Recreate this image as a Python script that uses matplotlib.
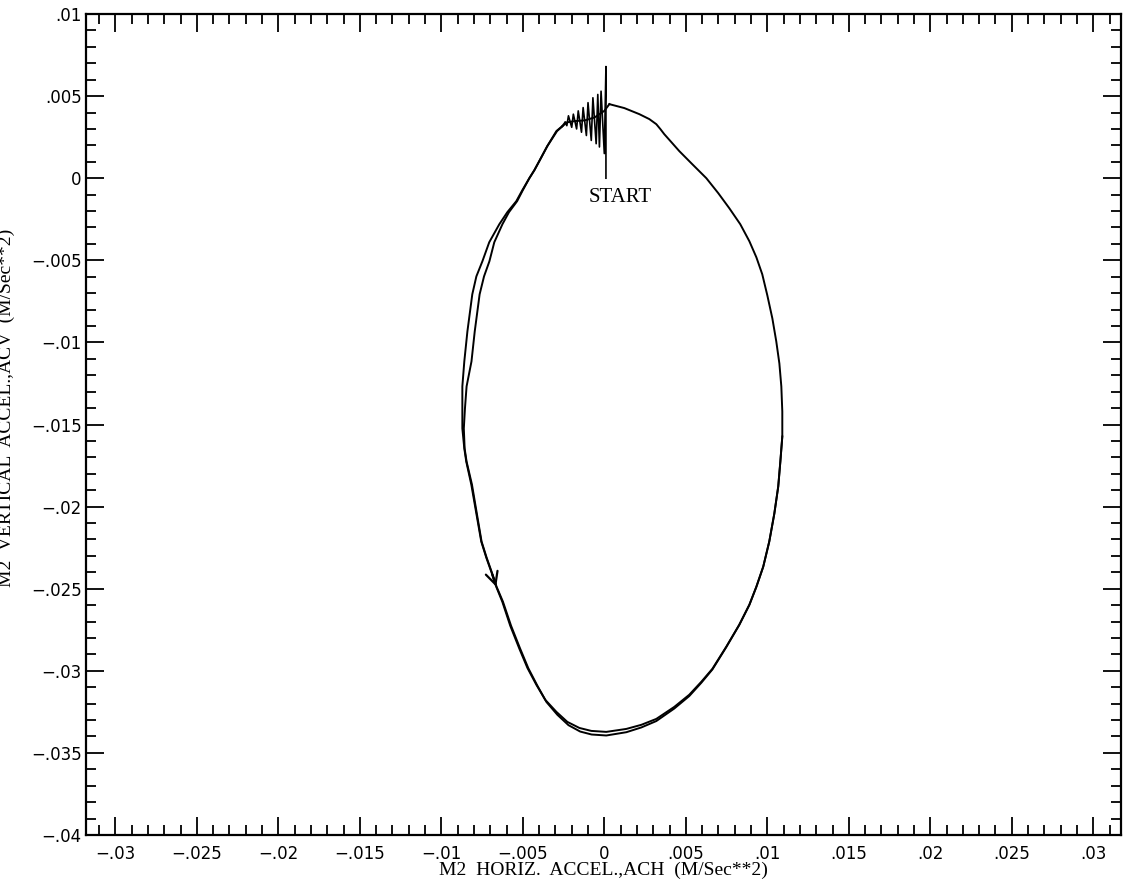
import matplotlib
matplotlib.use("Agg")
import matplotlib.pyplot as plt
from matplotlib.ticker import FixedLocator, MultipleLocator

# ---- data ----
# start transient: spike then decaying oscillation moving left
start_x = [0.0001, 0.0001, 0.0000, -0.0002, -0.0003, -0.0004, -0.0005, -0.0007, -0.0008,
           -0.0010, -0.0011, -0.0013, -0.0014, -0.0016, -0.0017, -0.0019, -0.0020,
           -0.0022, -0.0023, -0.0024]
start_y = [0.0000, 0.0068, 0.0015, 0.0053, 0.0019, 0.0051, 0.0021, 0.0049, 0.0023,
           0.0046, 0.0026, 0.0043, 0.0028, 0.0041, 0.0030, 0.0039, 0.0031,
           0.0038, 0.0032, 0.0034]

# first loop (outer line on the left), listed clockwise from the top
loop1_x = [0.00031, 0.00123, 0.00215, 0.00276, 0.00319, 0.00344, 0.00368, 0.00411,
           0.00460, 0.00540, 0.00626, 0.00699, 0.00767, 0.00834, 0.00890, 0.00933,
           0.00969, 0.01000, 0.01031, 0.01055, 0.01074, 0.01086, 0.01092, 0.01092,
           0.01080, 0.01067, 0.01043, 0.01012, 0.00975, 0.00933, 0.00890, 0.00828,
           0.00748, 0.00663, 0.00595, 0.00521, 0.00429, 0.00319, 0.00227, 0.00135,
           0.00012, -0.00080, -0.00153, -0.00227, -0.00294, -0.00362, -0.00417,
           -0.00472, -0.00521, -0.00577, -0.00626, -0.00663, -0.00687, -0.00724,
           -0.00755, -0.00785, -0.00816, -0.00847, -0.00859, -0.00871, -0.00871,
           -0.00871, -0.00859, -0.00840, -0.00810, -0.00785, -0.00748, -0.00706,
           -0.00644, -0.00595, -0.00540, -0.00503, -0.00460, -0.00429, -0.00399,
           -0.00350, -0.00294, -0.00258]
loop1_y = [0.00451, 0.00427, 0.00390, 0.00360, 0.00329, 0.00299, 0.00268, 0.00220,
           0.00165, 0.00085, 0.00000, -0.00091, -0.00183, -0.00280, -0.00384, -0.00482,
           -0.00585, -0.00713, -0.00854, -0.00994, -0.01128, -0.01268, -0.01421, -0.01573,
           -0.01726, -0.01878, -0.02043, -0.02213, -0.02366, -0.02488, -0.02598, -0.02720,
           -0.02854, -0.02988, -0.03067, -0.03146, -0.03220, -0.03293, -0.03329, -0.03354,
           -0.03372, -0.03366, -0.03348, -0.03311, -0.03250, -0.03177, -0.03085,
           -0.02982, -0.02866, -0.02726, -0.02579, -0.02488, -0.02415, -0.02311,
           -0.02213, -0.02043, -0.01866, -0.01726, -0.01646, -0.01524, -0.01402,
           -0.01268, -0.01116, -0.00933, -0.00707, -0.00598, -0.00506, -0.00390,
           -0.00280, -0.00207, -0.00140, -0.00073, 0.00000, 0.00049, 0.00104,
           0.00195, 0.00287, 0.00317]

# second loop (inner line on the left), in drawing order
loop2_x = [0.00031, 0.00000, -0.00060, -0.00120, -0.00180, -0.00230, -0.00290, -0.00350,
           -0.00399, -0.00429, -0.00460, -0.00500, -0.00535, -0.00585, -0.00625,
           -0.00675, -0.00705, -0.00738, -0.00765, -0.00795, -0.00815, -0.00845,
           -0.00855, -0.00862, -0.00857, -0.00845, -0.00812, -0.00782, -0.00753,
           -0.00722, -0.00685, -0.00661, -0.00622, -0.00572, -0.00516, -0.00466,
           -0.00410, -0.00355, -0.00288, -0.00220, -0.00148, -0.00078, 0.00012,
           0.00135, 0.00227, 0.00319, 0.00429, 0.00521, 0.00595, 0.00663, 0.00748,
           0.00828, 0.00890, 0.00933, 0.00975, 0.01012, 0.01043, 0.01067, 0.01080,
           0.01092]
loop2_y = [0.00451, 0.00410, 0.00370, 0.00352, 0.00348, 0.00340, 0.00287, 0.00195,
           0.00104, 0.00049, 0.00000, -0.00073, -0.00140, -0.00207, -0.00280,
           -0.00390, -0.00506, -0.00598, -0.00707, -0.00933, -0.01116, -0.01268,
           -0.01402, -0.01524, -0.01646, -0.01726, -0.01866, -0.02043, -0.02213,
           -0.02311, -0.02415, -0.02488, -0.02579, -0.02726, -0.02866, -0.02985,
           -0.03092, -0.03190, -0.03268, -0.03331, -0.03370, -0.03388, -0.03394,
           -0.03374, -0.03345, -0.03306, -0.03230, -0.03154, -0.03073, -0.02992,
           -0.02856, -0.02720, -0.02598, -0.02488, -0.02366, -0.02213, -0.02043,
           -0.01878, -0.01726, -0.01573]

arrow_y = -0.0249  # where the direction arrow sits on the left side

x_ticks = [-0.03, -0.025, -0.02, -0.015, -0.01, -0.005, 0, 0.005, 0.01, 0.015, 0.02, 0.025, 0.03]
x_labels = ["\u2212.03", "\u2212.025", "\u2212.02", "\u2212.015", "\u2212.01", "\u2212.005", "0",
            ".005", ".01", ".015", ".02", ".025", ".03"]
y_ticks = [0.01, 0.005, 0, -0.005, -0.01, -0.015, -0.02, -0.025, -0.03, -0.035, -0.04]
y_labels = [".01", ".005", "0", "\u2212.005", "\u2212.01", "\u2212.015", "\u2212.02", "\u2212.025",
            "\u2212.03", "\u2212.035", "\u2212.04"]

x_title = "M2  HORIZ.  ACCEL.,ACH  (M/Sec**2)"
y_title = "M2  VERTICAL  ACCEL.,ACV  (M/Sec**2)"
start_label = "START"

# ---- figure ----
fig = plt.figure(figsize=(11.23, 8.89), dpi=100)
ax = fig.add_axes([86 / 1123, 54 / 889, 1035 / 1123, 821 / 889])

lw = 1.4
path1_x = start_x + loop1_x[::-1]
path1_y = start_y + loop1_y[::-1]
ax.plot(start_x, start_y, color="black", lw=1.2)
ax.plot(loop1_x[::-1], loop1_y[::-1], color="black", lw=lw)
ax.plot([start_x[-1], loop1_x[-1]], [start_y[-1], loop1_y[-1]], color="black", lw=lw)
ax.plot(loop2_x, loop2_y, color="black", lw=lw)

# direction arrow on the left (descending) side of loop 1
left_idx = [i for i in range(len(loop1_x) - 1) if loop1_x[i] < 0]
ai = min(left_idx, key=lambda i: abs(loop1_y[i] - arrow_y))
ax.annotate("", xy=(loop1_x[ai], loop1_y[ai]),
            xytext=(loop1_x[ai + 1], loop1_y[ai + 1]),
            arrowprops=dict(arrowstyle="->", color="black", lw=1.6, mutation_scale=22,
                            shrinkA=0, shrinkB=0))

ax.text(0.001, -0.0012, start_label, ha="center", va="center",
        fontsize=15, family="Liberation Serif")

ax.set_xlim(-0.0318, 0.0317)
ax.set_ylim(-0.04, 0.01)

ax.xaxis.set_major_locator(FixedLocator(x_ticks))
ax.set_xticklabels(x_labels)
ax.yaxis.set_major_locator(FixedLocator(y_ticks))
ax.set_yticklabels(y_labels)
ax.xaxis.set_minor_locator(MultipleLocator(0.001))
ax.yaxis.set_minor_locator(MultipleLocator(0.001))

ax.tick_params(which="both", direction="in", top=True, right=True, width=1.3, color="black")
ax.tick_params(which="major", length=13)
ax.tick_params(which="minor", length=7)
ax.tick_params(axis="x", which="major", pad=7, labelsize=12)
ax.tick_params(axis="y", which="major", pad=3, labelsize=12)
for lab in ax.get_xticklabels() + ax.get_yticklabels():
    lab.set_family("DejaVu Sans")

for sp in ax.spines.values():
    sp.set_linewidth(1.6)

ax.set_xlabel(x_title, fontsize=14, family="Liberation Serif", labelpad=-1)
ax.set_ylabel(y_title, fontsize=14, family="Liberation Serif")
ax.yaxis.set_label_coords(-0.0685, 0.52)

fig.savefig("out.png", dpi=100)
